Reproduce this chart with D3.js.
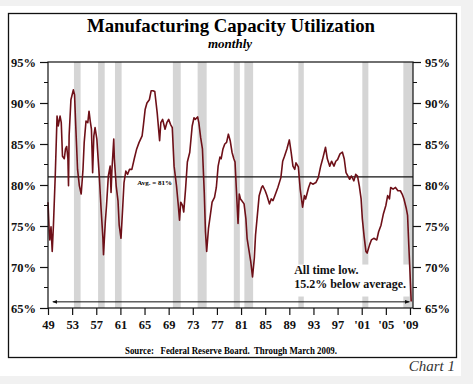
<!DOCTYPE html>
<html>
<head>
<meta charset="utf-8">
<script src="https://cdn.jsdelivr.net/npm/d3@7"></script>
<style>
  body { margin: 0; background: #f1f1f1; }
  text { font-family: "Liberation Serif", "Times New Roman", serif; }
</style>
</head>
<body>
<div id="chart"></div>
<script>
// data (year as decimal, utilization in %)
const years = [
  1949.0, 1949.2, 1949.3, 1949.5, 1949.7, 1949.9, 1950.2, 1950.5, 1950.7, 1951.0,
  1951.2, 1951.4, 1951.7, 1951.9, 1952.1, 1952.3, 1952.4, 1952.5, 1952.8, 1953.2,
  1953.4, 1953.6, 1953.9, 1954.2, 1954.5, 1954.8, 1955.0, 1955.3, 1955.6, 1955.8,
  1956.0, 1956.2, 1956.4, 1956.6, 1956.8, 1957.1, 1957.2, 1957.5, 1957.8, 1958.1,
  1958.2, 1958.5, 1958.7, 1959.0, 1959.3, 1959.45, 1959.6, 1959.9, 1960.0, 1960.3,
  1960.6, 1960.8, 1961.1, 1961.4, 1961.6, 1961.9, 1962.2, 1962.5, 1962.9, 1963.3,
  1963.7, 1964.1, 1964.6, 1964.8, 1965.1, 1965.4, 1965.8, 1966.1, 1966.4, 1966.7,
  1967.1, 1967.5, 1967.7, 1968.0, 1968.4, 1968.7, 1969.0, 1969.3, 1969.6, 1969.9,
  1970.3, 1970.6, 1970.8, 1971.0, 1971.3, 1971.5, 1971.8, 1972.1, 1972.5, 1972.9,
  1973.2, 1973.4, 1973.8, 1974.0, 1974.3, 1974.6, 1974.9, 1975.1, 1975.3, 1975.6,
  1975.9, 1976.2, 1976.6, 1976.9, 1977.2, 1977.5, 1977.7, 1978.0, 1978.3, 1978.6,
  1978.9, 1979.2, 1979.5, 1979.8, 1980.0, 1980.3, 1980.5, 1980.7, 1980.9, 1981.1,
  1981.5, 1981.8, 1982.0, 1982.3, 1982.6, 1982.9, 1983.2, 1983.4, 1983.7, 1984.0,
  1984.4, 1984.6, 1985.0, 1985.3, 1985.7, 1986.0, 1986.3, 1986.6, 1987.1, 1987.6,
  1987.9, 1988.2, 1988.6, 1989.0, 1989.3, 1989.6, 1989.9, 1990.1, 1990.5, 1990.8,
  1991.2, 1991.5, 1991.7, 1992.2, 1992.5, 1992.9, 1993.4, 1993.8, 1994.2, 1994.5,
  1995.0, 1995.3, 1995.7, 1996.0, 1996.4, 1996.7, 1997.0, 1997.4, 1997.8, 1998.1,
  1998.4, 1998.7, 1999.0, 1999.3, 1999.7, 2000.0, 2000.3, 2000.6, 2000.9, 2001.1,
  2001.4, 2001.7, 2001.9, 2002.3, 2002.6, 2003.0, 2003.5, 2003.8, 2004.2, 2004.6,
  2005.0, 2005.3, 2005.6, 2005.8, 2006.2, 2006.6, 2007.0, 2007.4, 2007.7, 2008.0,
  2008.4, 2008.6, 2008.8, 2009.0, 2009.2
];
const utilization = [
  77.9, 74.3, 73.3, 74.9, 71.9, 75.1, 81.1, 88.4, 87.2, 88.4,
  87.6, 83.5, 83.2, 84.4, 84.7, 83.2, 79.9, 86.0, 90.4, 91.6,
  91.0, 87.2, 81.9, 79.9, 78.9, 81.9, 85.2, 87.8, 87.6, 89.0,
  87.8, 86.8, 81.5, 86.0, 87.0, 85.6, 84.4, 81.1, 77.1, 73.5,
  71.5, 75.5, 77.5, 81.1, 82.3, 79.1, 81.9, 85.6, 83.2, 79.9,
  78.1, 75.1, 73.5, 77.5, 80.3, 81.7, 81.3, 81.9, 81.9, 83.2,
  84.4, 85.2, 86.0, 87.2, 89.2, 90.0, 90.4, 91.5, 91.5, 91.4,
  88.8, 85.4, 87.6, 88.0, 86.8, 87.6, 88.0, 87.4, 87.0, 82.3,
  79.9, 77.5, 75.7, 77.9, 77.5, 76.7, 79.5, 82.8, 84.0, 87.2,
  88.2, 88.0, 88.3, 87.6, 85.8, 84.4, 79.1, 74.3, 71.9, 74.7,
  76.3, 77.9, 78.5, 79.7, 82.3, 83.4, 83.2, 84.4, 85.0, 85.2,
  86.2, 85.4, 84.0, 83.2, 82.8, 78.3, 75.3, 78.9, 78.3, 78.1,
  77.7, 75.9, 73.5, 72.1, 70.7, 68.8, 71.1, 73.9, 76.3, 78.7,
  79.7, 79.9, 79.3, 78.7, 77.7, 78.3, 78.1, 78.7, 79.7, 80.9,
  82.9, 83.5, 84.4, 85.5, 84.0, 82.3, 81.9, 82.7, 82.2, 79.5,
  77.3, 78.7, 78.3, 79.7, 80.3, 80.1, 80.3, 80.9, 82.3, 83.1,
  84.6, 83.2, 82.3, 82.9, 82.3, 82.9, 83.1, 83.8, 84.0, 83.2,
  81.5, 81.1, 80.7, 81.1, 80.5, 81.3, 81.1, 79.9, 78.3, 75.9,
  73.7, 71.9, 71.7, 72.7, 73.3, 73.5, 73.3, 74.3, 75.1, 76.5,
  77.5, 78.7, 78.3, 79.7, 79.5, 79.7, 79.3, 79.3, 78.9, 78.3,
  77.1, 76.3, 72.7, 69.4, 65.8
];

// shaded recessions (start, end)
const recessionStart = [1953.3, 1957.3, 1960.1, 1969.7, 1973.8, 1979.8, 1981.55, 1990.5, 2001.1, 2007.9];
const recessionEnd   = [1954.4, 1958.4, 1961.2, 1971.0, 1975.3, 1980.8, 1983.0, 1991.4, 2002.1, 2009.5];

const xTickYears = d3.range(1949, 2010, 4);
const xTickLabels = ['49', '53', '57', '61', '65', '69', '73', '77', '81', '85', '89', '93', '97', "'01", "'05", "'09"];
const yMajor = [65, 70, 75, 80, 85, 90, 95];
const yMinor = [67.5, 72.5, 77.5, 82.5, 87.5, 92.5];
const average = 81;

let width = 473;
let height = 384;

let svg = d3.select('#chart')
  .append('svg')
  .attr('width', width)
  .attr('height', height);

// white sheet + outer frame
svg.append('rect').attr('x', 0).attr('y', 6).attr('width', 461).attr('height', 370).attr('fill', '#fff');
svg.append('rect')
  .attr('x', 8.5).attr('y', 13.5).attr('width', 448).attr('height', 344)
  .attr('fill', 'none').attr('stroke', '#111').attr('stroke-width', 1.3);

// plot area
let plotLeft = 48, plotRight = 413, plotTop = 62, plotBottom = 308;

let x = d3.scaleLinear().domain([1949, 2009.5]).range([plotLeft, plotRight]);
let y = d3.scaleLinear().domain([65, 95]).range([plotBottom, plotTop]);

// recession bars
svg.append('g')
  .selectAll('rect')
  .data(recessionStart)
  .join('rect')
  .attr('x', (d) => x(d))
  .attr('width', (d, i) => x(recessionEnd[i]) - x(d))
  .attr('y', plotTop)
  .attr('height', plotBottom - plotTop)
  .attr('fill', '#d5d5d5');

// white box behind the annotation hides the bars
svg.append('rect')
  .attr('x', x(1989.9)).attr('y', y(70.3))
  .attr('width', x(2008.9) - x(1989.9)).attr('height', y(66.4) - y(70.3))
  .attr('fill', '#fff');

// average line
svg.append('line')
  .attr('x1', plotLeft).attr('x2', plotRight)
  .attr('y1', y(average)).attr('y2', y(average))
  .attr('stroke', '#111').attr('stroke-width', 1.2);

svg.append('text')
  .attr('x', x(1963.8)).attr('y', y(average) + 8)
  .attr('font-size', 7).attr('font-weight', 'bold')
  .text('Avg. = 81%');

// the series
let line = d3.line()
  .x((d, i) => x(years[i]))
  .y((d) => y(d));

svg.append('path')
  .datum(utilization)
  .attr('d', line)
  .attr('fill', 'none')
  .attr('stroke', '#6e1018')
  .attr('stroke-width', 1.6)
  .attr('stroke-linejoin', 'round');

// frame of the plot
svg.append('rect')
  .attr('x', plotLeft).attr('y', plotTop).attr('width', plotRight - plotLeft).attr('height', plotBottom - plotTop)
  .attr('fill', 'none').attr('stroke', '#111').attr('stroke-width', 1.2);

// left axis
let yAxisLeft = d3.axisLeft(y).tickValues(yMajor).tickSize(8).tickFormat((d) => d + '%');
let gl = svg.append('g').attr('transform', `translate(${plotLeft},0)`).call(yAxisLeft);
gl.append('g').selectAll('line').data(yMinor).join('line')
  .attr('x1', -4).attr('x2', 0).attr('y1', (d) => y(d)).attr('y2', (d) => y(d)).attr('stroke', '#111');

// right axis
let yAxisRight = d3.axisRight(y).tickValues(yMajor).tickSize(8).tickFormat((d) => d + '%');
let gr = svg.append('g').attr('transform', `translate(${plotRight},0)`).call(yAxisRight);
gr.append('g').selectAll('line').data(yMinor).join('line')
  .attr('x1', 0).attr('x2', 4).attr('y1', (d) => y(d)).attr('y2', (d) => y(d)).attr('stroke', '#111');

// bottom axis
let xAxis = d3.axisBottom(x).tickValues(xTickYears).tickSize(7).tickPadding(5)
  .tickFormat((d, i) => xTickLabels[i]);
let gx = svg.append('g').attr('transform', `translate(0,${plotBottom})`).call(xAxis);

[gl, gr, gx].forEach((g) => {
  g.select('.domain').remove();
  g.selectAll('.tick line').attr('stroke', '#111').attr('stroke-width', 1.2);
  g.selectAll('text')
    .attr('font-family', '"Liberation Serif", serif')
    .attr('font-size', 12.5)
    .attr('font-weight', 'bold')
    .attr('fill', '#111');
});
gl.selectAll('.tick text').attr('x', -12);
gr.selectAll('.tick text').attr('x', 12);

// long arrow along the bottom
let defs = svg.append('defs');
['start', 'end'].forEach((k) => {
  defs.append('marker')
    .attr('id', 'arr-' + k)
    .attr('viewBox', '0 0 10 10')
    .attr('refX', 9).attr('refY', 5)
    .attr('markerWidth', 5).attr('markerHeight', 5)
    .attr('orient', k === 'end' ? 0 : 180)
    .append('path').attr('d', 'M0,1L10,5L0,9Z').attr('fill', '#111');
});
svg.append('line')
  .attr('x1', x(1949.8)).attr('x2', x(2008.9))
  .attr('y1', y(65.75)).attr('y2', y(65.75))
  .attr('stroke', '#111').attr('stroke-width', 1)
  .attr('marker-start', 'url(#arr-start)')
  .attr('marker-end', 'url(#arr-end)');

// annotation
let note = svg.append('text').attr('font-size', 12).attr('font-weight', 'bold').attr('fill', '#111');
note.append('tspan').attr('x', x(1989.8)).attr('y', y(69.2)).text('All time low.');
note.append('tspan').attr('x', x(1989.8)).attr('y', y(67.4)).text('15.2% below average.');

// titles
svg.append('text')
  .attr('x', 231).attr('y', 32)
  .attr('text-anchor', 'middle')
  .attr('font-size', 19.5).attr('font-weight', 'bold')
  .attr('textLength', 288).attr('lengthAdjust', 'spacingAndGlyphs')
  .text('Manufacturing Capacity Utilization');

svg.append('text')
  .attr('x', 230).attr('y', 48)
  .attr('text-anchor', 'middle')
  .attr('font-size', 13).attr('font-weight', 'bold').attr('font-style', 'italic')
  .text('monthly');

svg.append('text')
  .attr('x', 125).attr('y', 354)
  .attr('font-size', 9.5).attr('font-weight', 'bold')
  .attr('textLength', 212).attr('lengthAdjust', 'spacingAndGlyphs')
  .attr('xml:space', 'preserve')
  .text('Source:   Federal Reserve Board.  Through March 2009.');

svg.append('text')
  .attr('x', 455).attr('y', 371)
  .attr('text-anchor', 'end')
  .attr('font-size', 15).attr('font-style', 'italic').attr('fill', '#333')
  .text('Chart 1');
</script>
</body>
</html>
